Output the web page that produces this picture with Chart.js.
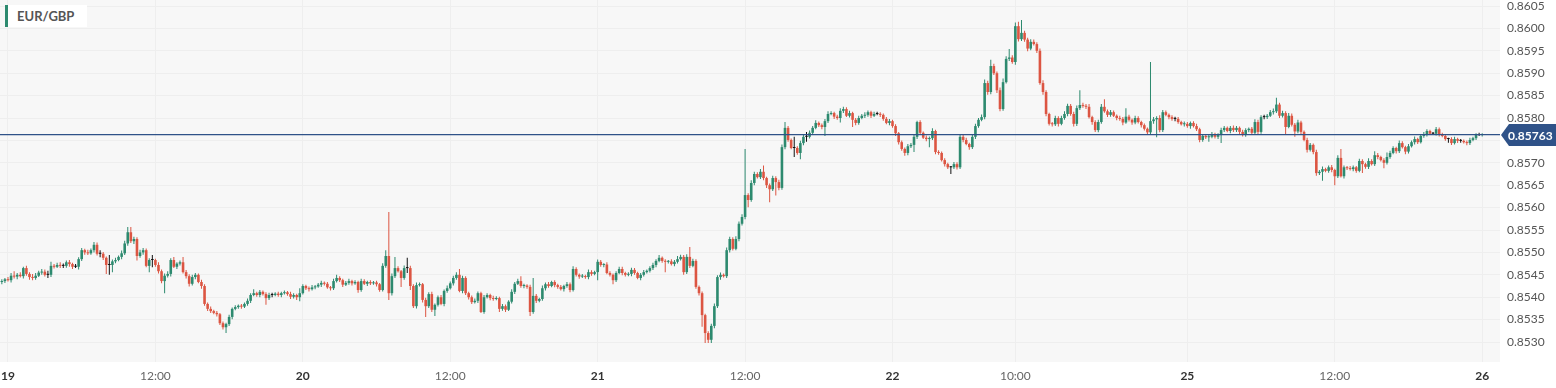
<!DOCTYPE html>
<html>
<head>
<meta charset="utf-8">
<script src="https://cdn.jsdelivr.net/npm/chart.js@4.4.1/dist/chart.umd.min.js"></script>
<style>
html, body { margin: 0; padding: 0; background: #fff; }
#wrap { position: relative; width: 1556px; height: 388px; }
canvas { display: block; }
#title { position: absolute; left: 5px; top: 5px; width: 82px; height: 22px; box-sizing: border-box;
  padding-left: 12px; background: #fff; font: bold 13px Lato, sans-serif; color: #555; line-height: 22px; }
#title i { position: absolute; left: 0; top: 0; width: 3px; height: 22px; background: #2d8a6f; }
</style>
</head>
<body>
<div id="wrap">
  <canvas id="chart" width="1556" height="388"></canvas>
  <div id="title"><i></i>EUR/GBP</div>
</div>
<script>
// 15 minute candles, prices in 0.00001 steps above 0.85
const BASE = 0.85;
const UNIT = 0.00001;
const firstIndex = -2;      // two candles before 19 00:00
const firstOpen = 434;

const closes = [
  436,440,438,448,446,450,447,465,452,445,443,448,
  455,457,450,450,470,468,472,470,470,478,
  474,468,468,485,505,500,498,505,517,497,
  497,488,472,472,480,483,490,498,520,545,
  525,530,492,500,505,470,483,483,472,458,
  436,448,452,483,468,475,478,456,447,430,
  445,450,434,425,385,374,369,365,362,342,
  333,340,356,374,378,381,379,385,392,405,
  409,405,412,407,398,405,405,408,405,409,
  411,407,401,405,400,409,425,420,418,422,
  424,428,432,430,422,420,436,443,438,428,
  432,436,431,434,416,436,430,434,431,433,
  429,416,470,492,409,447,465,458,443,465,
  465,425,380,427,429,394,380,407,372,383,
  400,385,414,420,431,443,450,414,443,409,
  400,389,392,409,367,400,405,398,396,398,
  374,380,372,390,412,430,436,425,426,423,
  367,403,392,396,420,429,425,434,427,423,
  418,425,429,416,463,450,446,447,445,456,
  452,456,479,472,473,454,450,438,454,463,
  454,450,452,461,454,443,450,456,459,465,
  472,481,488,481,479,480,474,479,485,490,
  456,490,470,481,423,409,360,320,305,336,
  380,445,450,447,505,530,508,530,564,579,
  628,617,655,675,668,680,666,650,641,666,
  657,644,735,778,751,733,733,722,744,758,
  758,767,778,789,784,780,793,809,811,803,
  800,816,820,805,811,796,789,800,805,807,
  813,805,809,809,807,798,789,793,782,766,
  746,731,722,737,740,758,791,767,756,753,
  755,771,724,722,706,697,690,690,697,690,
  758,751,742,735,758,782,796,802,878,858,
  916,900,862,820,880,932,935,925,1005,976,
  990,975,955,970,965,950,878,858,809,787,
  786,800,787,800,809,827,809,787,822,829,
  827,825,802,791,773,791,825,815,807,813,
  805,800,798,790,803,796,790,800,791,784,
  776,768,793,797,800,773,813,807,802,798,
  798,791,786,787,782,789,782,775,751,760,
  757,758,764,758,762,773,778,771,778,773,
  778,769,762,773,776,767,791,769,802,802,
  805,813,815,830,805,811,780,805,785,770,
  790,769,751,729,740,724,677,680,686,682,
  690,684,670,711,670,690,688,686,690,682,
  704,697,691,704,697,717,713,706,700,713,
  722,733,726,744,735,725,737,746,753,746,
  760,764,771,765,765,775,764,760,753,753,
  744,753,749,749,746,744,751,755,762,762,763
];

const upperWicks = [
  4,3,5,6,10,4,6,3,5,4,7,6,
  4,6,5,9,9,4,5,6,5,4,
  5,3,6,4,5,3,6,4,6,5,
  8,4,3,22,4,5,3,6,6,12,
  12,5,4,6,5,4,4,11,3,6,
  4,5,6,4,7,3,4,12,5,4,
  5,4,3,5,4,3,5,3,4,3,
  4,3,5,3,4,3,4,3,5,4,
  9,3,4,3,4,5,5,3,4,3,
  4,3,5,4,3,11,4,3,4,5,
  3,4,5,3,4,3,5,7,4,3,
  4,5,3,4,3,5,4,3,4,3,
  4,3,6,13,98,6,25,4,3,6,
  23,5,4,6,4,3,5,4,5,3,
  4,5,3,6,4,5,6,13,5,4,
  3,4,5,4,3,5,4,3,5,4,
  3,5,4,3,6,4,5,11,4,3,
  5,40,4,3,6,4,5,3,4,3,
  4,3,5,4,6,4,3,5,3,6,
  4,3,5,4,3,5,4,3,4,5,
  5,3,4,5,4,3,4,5,3,4,
  5,4,6,3,4,3,5,4,7,5,
  4,6,22,5,4,3,4,3,4,5,
  6,4,5,3,6,5,4,6,5,6,
  103,4,6,5,4,6,14,3,4,5,
  4,5,6,13,4,3,25,4,5,6,
  11,5,4,6,3,4,5,6,4,3,
  4,6,5,4,5,3,4,5,4,6,
  4,3,5,5,4,3,4,5,3,4,
  3,4,3,5,4,6,3,4,3,5,
  4,6,3,4,3,4,3,3,5,4,
  6,4,5,3,6,5,4,6,8,5,
  14,5,4,6,8,6,19,5,8,10,
  29,5,4,6,5,4,5,6,4,3,
  4,5,4,5,6,5,4,5,6,33,
  5,4,6,3,4,5,6,17,4,5,
  4,3,5,4,19,4,3,5,4,3,
  4,3,132,5,4,6,5,4,3,4,
  5,4,3,5,4,3,4,5,3,4,
  3,4,5,3,4,5,4,3,4,5,
  4,3,5,4,3,4,6,5,4,5,
  4,5,6,15,4,5,4,6,5,4,
  6,4,3,5,4,3,5,4,6,3,
  4,5,3,6,20,4,3,5,4,3,
  5,4,3,6,4,9,5,3,4,10,
  5,4,3,6,4,3,5,4,6,3,
  4,5,4,3,4,5,4,3,4,3,
  4,5,3,4,3,4,5,3,4,5,3
];

const lowerWicks = [
  5,4,3,5,4,6,3,5,4,6,5,4,
  3,5,4,7,5,4,3,5,5,4,
  6,5,3,6,4,5,4,3,5,4,
  8,5,20,22,16,4,3,5,4,5,
  4,6,10,4,5,3,14,16,4,5,
  5,27,4,6,3,5,4,3,5,6,
  4,5,3,6,4,5,4,3,5,4,
  5,13,4,5,3,4,5,3,4,5,
  3,4,5,3,15,4,5,3,4,5,
  3,4,5,4,6,9,3,4,5,3,
  4,3,5,4,3,5,4,3,4,5,
  3,4,5,3,6,4,3,5,4,3,
  5,4,3,4,15,5,4,3,20,4,
  11,9,4,5,3,6,24,4,5,14,
  4,3,5,4,3,5,4,3,5,4,
  5,4,3,5,2,4,3,5,4,3,
  7,4,5,3,4,5,3,4,5,4,
  9,4,5,3,4,5,4,3,5,4,
  3,5,4,5,3,4,5,3,4,5,
  4,3,18,4,5,3,4,9,4,3,
  5,4,3,5,4,3,5,4,3,4,
  4,5,3,4,23,4,3,5,4,3,
  6,4,5,3,4,5,26,22,7,7,
  5,4,6,3,4,5,4,3,5,4,
  5,16,4,5,3,4,5,6,29,4,
  30,5,4,5,4,3,20,4,14,5,
  11,4,5,3,4,5,20,4,3,5,
  4,10,5,3,4,16,5,4,3,5,
  4,5,3,3,5,4,3,5,4,6,
  5,4,6,5,4,16,5,4,3,5,
  18,4,5,4,3,5,4,15,4,5,
  4,5,3,6,4,5,4,3,5,6,
  5,4,6,5,4,3,5,4,6,5,
  4,5,6,4,3,5,4,6,5,4,
  5,4,6,3,4,5,4,6,5,4,
  4,5,3,6,4,5,4,3,5,4,
  3,5,4,6,3,4,5,4,3,5,
  4,5,4,6,40,5,4,3,5,4,
  5,4,3,5,4,6,3,4,5,4,
  4,10,3,4,5,18,4,3,5,4,
  4,5,3,4,5,4,3,5,4,5,
  4,3,5,4,5,4,18,3,4,12,
  4,5,3,6,4,5,6,4,20,3,
  4,5,20,4,3,5,4,3,5,4,
  3,20,4,5,3,4,5,3,12,4,
  4,3,5,4,3,6,4,3,5,4,
  3,4,5,3,3,4,5,3,4,8,
  4,3,5,4,3,5,4,3,4,2,3
];

// x axis: candle index, day starts every 96 candles
const xTickIndex = [0, 48, 96, 144, 192, 240, 288, 328, 384, 432, 480];
const xTickLabels = ['19', '12:00', '20', '12:00', '21', '12:00', '22', '10:00', '25', '12:00', '26'];
const yTicks = [0.8530, 0.8535, 0.8540, 0.8545, 0.8550, 0.8555, 0.8560, 0.8565, 0.8570, 0.8575,
                0.8580, 0.8585, 0.8590, 0.8595, 0.8600, 0.8605];
const lastPrice = 0.85763;

const GREEN = '#2d8a6f';
const RED = '#dc5542';
const DOJI = '#111111';
const NAVY = '#2f5288';

const candles = closes.map((c, k) => {
    const o = k === 0 ? firstOpen : closes[k - 1];
    const hi = Math.max(o, c) + (upperWicks[k] || 0);
    const lo = Math.min(o, c) - (lowerWicks[k] || 0);
    return { x: firstIndex + k, o: BASE + o * UNIT, c: BASE + c * UNIT, h: BASE + hi * UNIT, l: BASE + lo * UNIT };
});

function candleColor(ctx) {
    const d = candles[ctx.dataIndex];
    if (!d) return GREEN;
    if (Math.abs(d.c - d.o) < UNIT / 2) return DOJI;
    return d.c > d.o ? GREEN : RED;
}

// plot background + white margins
const background = {
    id: 'background',
    beforeDraw(chart) {
        const { ctx, chartArea: a } = chart;
        ctx.save();
        ctx.fillStyle = '#ffffff';
        ctx.fillRect(0, 0, chart.width, chart.height);
        ctx.fillStyle = '#f7f7f7';
        ctx.fillRect(a.left, a.top, a.right - a.left, a.bottom - a.top);
        ctx.restore();
    }
};

// current price line and tag on the right axis
const priceLine = {
    id: 'priceLine',
    afterDatasetsDraw(chart) {
        const { ctx, chartArea: a } = chart;
        const y = chart.scales.y.getPixelForValue(lastPrice);
        ctx.save();
        ctx.strokeStyle = NAVY;
        ctx.lineWidth = 1.2;
        ctx.beginPath();
        ctx.moveTo(a.left, y);
        ctx.lineTo(a.right, y);
        ctx.stroke();
        ctx.restore();
    },
    afterDraw(chart) {
        const { ctx, chartArea: a } = chart;
        const y = Math.round(chart.scales.y.getPixelForValue(lastPrice));
        ctx.save();
        ctx.fillStyle = NAVY;
        ctx.beginPath();
        ctx.moveTo(a.right + 1, y);
        ctx.lineTo(a.right + 9, y - 11);
        ctx.lineTo(chart.width, y - 11);
        ctx.lineTo(chart.width, y + 11);
        ctx.lineTo(a.right + 9, y + 11);
        ctx.closePath();
        ctx.fill();
        ctx.fillStyle = '#ffffff';
        ctx.font = 'bold 12px Lato';
        ctx.textAlign = 'left';
        ctx.textBaseline = 'middle';
        ctx.fillText(lastPrice.toFixed(5), a.right + 8, y + 1);
        ctx.restore();
    }
};

const ctx = document.getElementById('chart').getContext('2d');
const chart = new Chart(ctx, {
    type: 'bar',
    data: {
        datasets: [
            {
                label: 'wick',
                data: candles.map(d => ({ x: d.x, y: [d.l, d.h] })),
                backgroundColor: candleColor,
                barThickness: 1,
                grouped: false,
                order: 2
            },
            {
                label: 'body',
                data: candles.map(d => ({ x: d.x, y: [d.o, d.c] })),
                backgroundColor: candleColor,
                barThickness: 2.6,
                minBarLength: 1,
                grouped: false,
                order: 1
            }
        ]
    },
    options: {
        responsive: false,
        animation: false,
        events: [],
        layout: { padding: 0 },
        plugins: { legend: { display: false }, tooltip: { enabled: false } },
        datasets: { bar: { borderWidth: 0, inflateAmount: 0 } },
        scales: {
            x: {
                type: 'linear',
                min: -2.6,
                max: 485.8,
                offset: false,
                grid: { color: '#eeeeee', drawTicks: false, offset: false },
                border: { display: false },
                afterBuildTicks: scale => { scale.ticks = xTickIndex.map(v => ({ value: v })); },
                afterFit: scale => { scale.height = 26; scale.paddingLeft = 0; scale.paddingRight = 0; },
                ticks: {
                    autoSkip: false,
                    maxRotation: 0,
                    padding: 7,
                    callback: value => xTickLabels[xTickIndex.indexOf(value)],
                    color: c => (xTickLabels[c.index] || '').includes(':') ? '#666666' : '#333333',
                    font: c => ({
                        family: 'Lato',
                        size: 12,
                        weight: (xTickLabels[c.index] || '').includes(':') ? 'normal' : 'bold'
                    })
                }
            },
            y: {
                type: 'linear',
                position: 'right',
                min: 0.852554,
                max: 0.860634,
                grid: { color: '#eeeeee', drawTicks: false },
                border: { display: false },
                afterBuildTicks: scale => { scale.ticks = yTicks.map(v => ({ value: v })); },
                afterFit: scale => { scale.width = 56; scale.paddingTop = 0; scale.paddingBottom = 0; },
                ticks: {
                    padding: 7,
                    color: '#555555',
                    font: { family: 'Lato', size: 12 },
                    callback: value => Math.abs(value - lastPrice) < 0.0002 ? '' : value.toFixed(4)
                }
            }
        }
    },
    plugins: [background, priceLine]
});
</script>
</body>
</html>
